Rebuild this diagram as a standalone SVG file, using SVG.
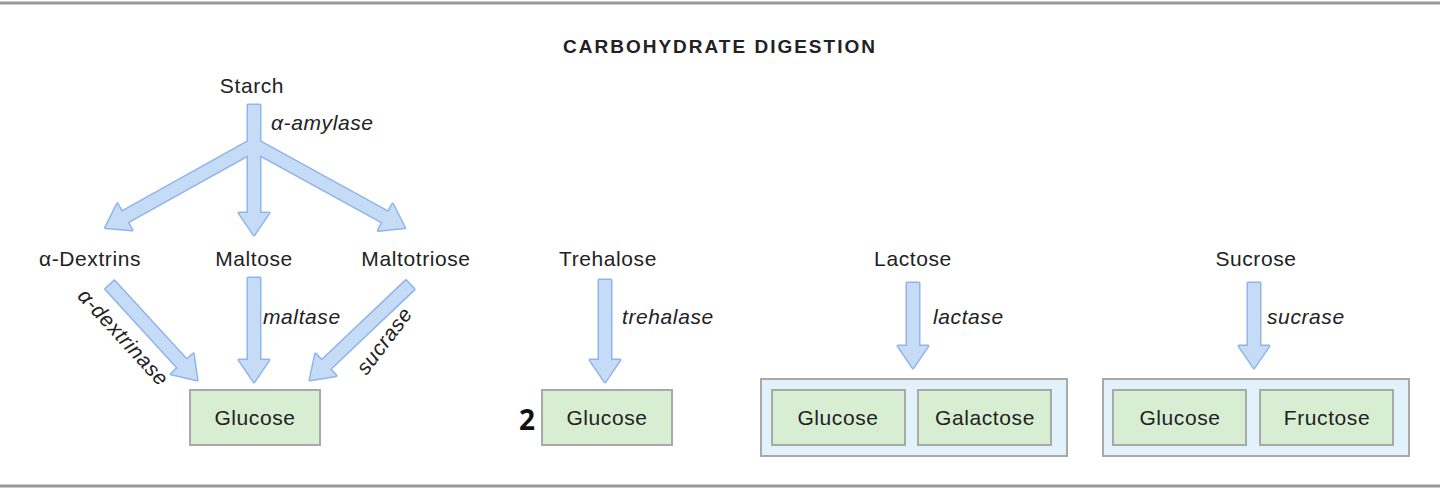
<svg xmlns="http://www.w3.org/2000/svg" width="1440" height="489" viewBox="0 0 1440 489">
<style>
text{font-family:"Liberation Sans",Arial,sans-serif;fill:#222;font-size:21px;letter-spacing:0.6px}
.c{text-anchor:middle}
.i{font-style:italic}
.g{fill:#d8eed2;stroke:#a9a9a9;stroke-width:2}
.w{fill:#e1f2fa;stroke:#a9a9a9;stroke-width:2}
</style>
<rect x="0" y="0" width="1440" height="489" fill="#fff"/>
<line x1="0" y1="3" x2="1440" y2="3" stroke="#999" stroke-width="3"/>
<line x1="0" y1="486" x2="1440" y2="486" stroke="#999" stroke-width="3"/>
<text x="720" y="53" class="c" style="font-weight:bold;font-size:19px;letter-spacing:2px">CARBOHYDRATE DIGESTION</text>
<g id="connectors">
<g stroke="#8fb5ea" stroke-width="3" fill="#8fb5ea" stroke-linejoin="round">
<polygon transform="translate(254,105) rotate(90)" points="0,-6 108,-6 108,-15 130,0 108,15 108,6 0,6"/>
<polygon transform="translate(254,145) rotate(150.9)" points="0,-6 148,-6 148,-15 170,0 148,15 148,6 0,6"/>
<polygon transform="translate(254,145) rotate(28.8)" points="0,-6 150,-6 150,-15 172,0 150,15 150,6 0,6"/>
<polygon transform="translate(110,285) rotate(47.5)" points="0,-6 107,-6 107,-15 129,0 107,15 107,6 0,6"/>
<polygon transform="translate(254,278) rotate(90)" points="0,-6 82,-6 82,-15 104,0 82,15 82,6 0,6"/>
<polygon transform="translate(410,285) rotate(136.5)" points="0,-6 116,-6 116,-15 138,0 116,15 116,6 0,6"/>
<polygon transform="translate(605,280) rotate(90)" points="0,-6 80,-6 80,-15 102,0 80,15 80,6 0,6"/>
<polygon transform="translate(913,283) rotate(90)" points="0,-6 63,-6 63,-15 85,0 63,15 63,6 0,6"/>
<polygon transform="translate(1254,283) rotate(90)" points="0,-6 63,-6 63,-15 85,0 63,15 63,6 0,6"/>
</g>
<g fill="#c6dbf6">
<polygon transform="translate(254,105) rotate(90)" points="0,-6 108,-6 108,-15 130,0 108,15 108,6 0,6"/>
<polygon transform="translate(254,145) rotate(150.9)" points="0,-6 148,-6 148,-15 170,0 148,15 148,6 0,6"/>
<polygon transform="translate(254,145) rotate(28.8)" points="0,-6 150,-6 150,-15 172,0 150,15 150,6 0,6"/>
<polygon transform="translate(110,285) rotate(47.5)" points="0,-6 107,-6 107,-15 129,0 107,15 107,6 0,6"/>
<polygon transform="translate(254,278) rotate(90)" points="0,-6 82,-6 82,-15 104,0 82,15 82,6 0,6"/>
<polygon transform="translate(410,285) rotate(136.5)" points="0,-6 116,-6 116,-15 138,0 116,15 116,6 0,6"/>
<polygon transform="translate(605,280) rotate(90)" points="0,-6 80,-6 80,-15 102,0 80,15 80,6 0,6"/>
<polygon transform="translate(913,283) rotate(90)" points="0,-6 63,-6 63,-15 85,0 63,15 63,6 0,6"/>
<polygon transform="translate(1254,283) rotate(90)" points="0,-6 63,-6 63,-15 85,0 63,15 63,6 0,6"/>
</g>
<text x="271" y="130" class="i">α-amylase</text>
<text x="263" y="324" class="i">maltase</text>
<text x="622" y="324" class="i">trehalase</text>
<text x="933" y="324" class="i">lactase</text>
<text x="1267" y="324" class="i">sucrase</text>
<text transform="translate(118,342) rotate(47.5)" class="c i">α-dextrinase</text>
<text transform="translate(390,345) rotate(-53)" class="c i">sucrase</text>
</g>
<g id="starch"><text x="252" y="93" class="c">Starch</text></g>
<g id="dextrins"><text x="90" y="266" class="c">α-Dextrins</text></g>
<g id="maltose"><text x="254" y="266" class="c">Maltose</text></g>
<g id="maltotriose"><text x="416" y="266" class="c">Maltotriose</text></g>
<g id="trehalose"><text x="608" y="266" class="c">Trehalose</text></g>
<g id="lactose"><text x="913" y="266" class="c">Lactose</text></g>
<g id="sucrose"><text x="1256" y="266" class="c">Sucrose</text></g>
<g id="glucose1"><rect class="g" x="190" y="390" width="130" height="55"/><text x="255" y="425" class="c">Glucose</text></g>
<g id="glucose2"><text x="527" y="430" class="c" style="font-family:'Open Sans','DejaVu Sans',sans-serif;font-size:28px;font-weight:bold;fill:#111;letter-spacing:0">2</text><rect class="g" x="542" y="390" width="130" height="55"/><text x="607" y="425" class="c">Glucose</text></g>
<g id="lactose-products"><rect class="w" x="761" y="379" width="306" height="77"/><rect class="g" x="772" y="390" width="133" height="55"/><text x="838" y="425" class="c">Glucose</text><rect class="g" x="918" y="390" width="133" height="55"/><text x="985" y="425" class="c">Galactose</text></g>
<g id="sucrose-products"><rect class="w" x="1103" y="379" width="306" height="77"/><rect class="g" x="1113" y="390" width="133" height="55"/><text x="1180" y="425" class="c">Glucose</text><rect class="g" x="1260" y="390" width="133" height="55"/><text x="1327" y="425" class="c">Fructose</text></g>
</svg>
